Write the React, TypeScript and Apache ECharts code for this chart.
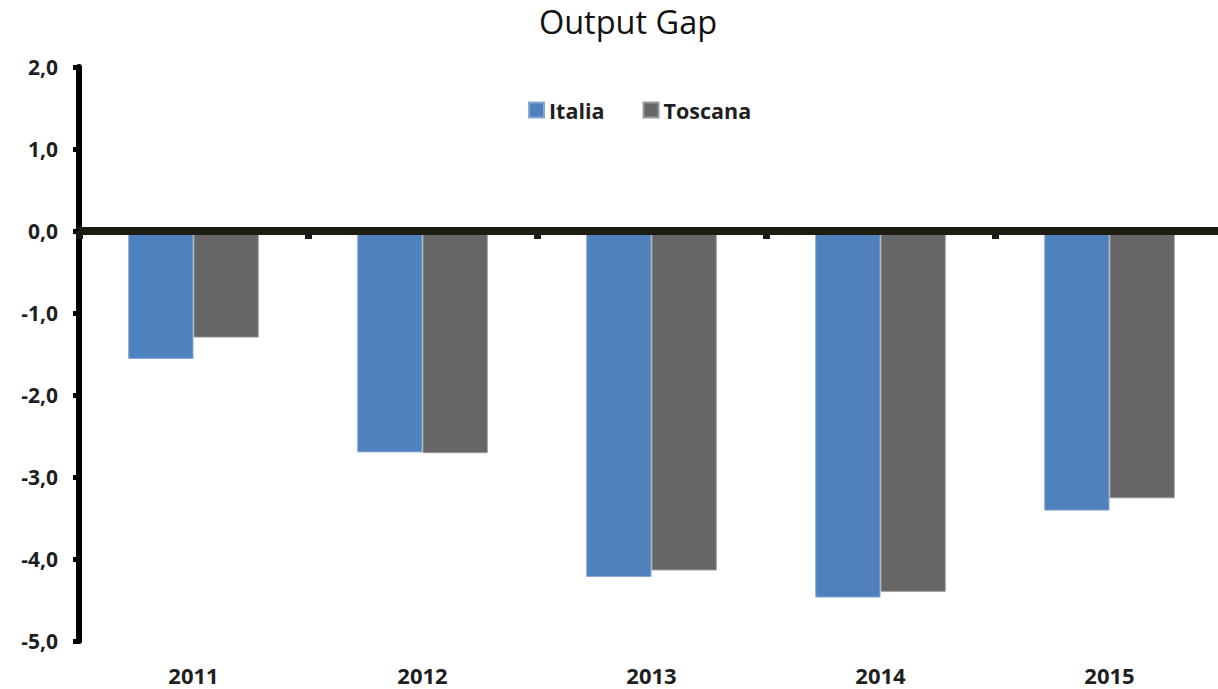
import React, { useEffect, useRef } from "react";
import * as echarts from "echarts";

const categories = ["2011", "2012", "2013", "2014", "2015"];
const italia = [-1.56, -2.7, -4.22, -4.47, -3.41];
const toscana = [-1.3, -2.71, -4.14, -4.4, -3.26];
const seriesNames = ["Italia", "Toscana"];
const titleText = "Output Gap";

export default function App() {
  const ref = useRef<HTMLDivElement>(null);
  useEffect(() => {
    if (!ref.current) return;
    const chart = echarts.init(ref.current, undefined, { renderer: "svg" });
    const font = "'Open Sans', sans-serif";
    chart.setOption({
      animation: false,
      backgroundColor: "#ffffff",
      title: {
        text: titleText,
        left: 623,
        top: 0,
        textAlign: "center",
        textStyle: { fontFamily: font, fontSize: 32.5, fontWeight: "normal", color: "#111" },
      },
      legend: {
        data: seriesNames,
        left: 523,
        top: 94,
        itemWidth: 15,
        itemHeight: 15,
        itemGap: 38,
        icon: "rect",
        textStyle: { fontFamily: font, fontSize: 21.5, fontWeight: "bold", color: "#1f1f1f" },
      },
      grid: { left: 79, right: 0, top: 67, bottom: 48, containLabel: false },
      xAxis: [
        {
          type: "category",
          data: categories,
          position: "bottom",
          z: 10,
          axisLine: { show: true, onZero: true, lineStyle: { color: "#1e1c12", width: 8 } },
          axisTick: { show: true, length: 8, interval: 0, lineStyle: { color: "#1e1c12", width: 7 } },
          axisLabel: { show: false },
          splitLine: { show: false },
        },
        {
          type: "category",
          data: categories,
          position: "bottom",
          axisLine: { show: false, onZero: false },
          axisTick: { show: false },
          axisLabel: { show: true, margin: 23, fontFamily: font, fontSize: 22, fontWeight: "bold", color: "#1f1f1f" },
          splitLine: { show: false },
        },
      ],
      yAxis: {
        type: "value",
        min: -5,
        max: 2,
        interval: 1,
        z: 10,
        axisLine: { show: true, onZero: false, lineStyle: { color: "#000", width: 6 } },
        axisTick: { show: true, length: 6, lineStyle: { color: "#000", width: 5 } },
        splitLine: { show: false },
        axisLabel: {
          margin: 21,
          fontFamily: font,
          fontSize: 21,
          fontWeight: "bold",
          color: "#1f1f1f",
          formatter: (v: number) => v.toFixed(1).replace(".", ","),
        },
      },
      series: [
        {
          name: seriesNames[0],
          type: "bar",
          data: italia,
          xAxisIndex: 0,
          barGap: "0%",
          barCategoryGap: "43%",
          itemStyle: { color: "#4f81bd", borderColor: "#86a8d6", borderWidth: 1 },
        },
        {
          name: seriesNames[1],
          type: "bar",
          data: toscana,
          xAxisIndex: 0,
          barGap: "0%",
          barCategoryGap: "43%",
          itemStyle: { color: "#666666", borderColor: "#9a9a9a", borderWidth: 1 },
        },
      ],
    });
    return () => chart.dispose();
  }, []);
  return (
    <div
      style={{ position: "fixed", left: 0, top: 0, width: 1218, height: 689, overflow: "hidden", background: "#fff" }}
    >
      <div ref={ref} style={{ width: 1224, height: 689 }} />
    </div>
  );
}
